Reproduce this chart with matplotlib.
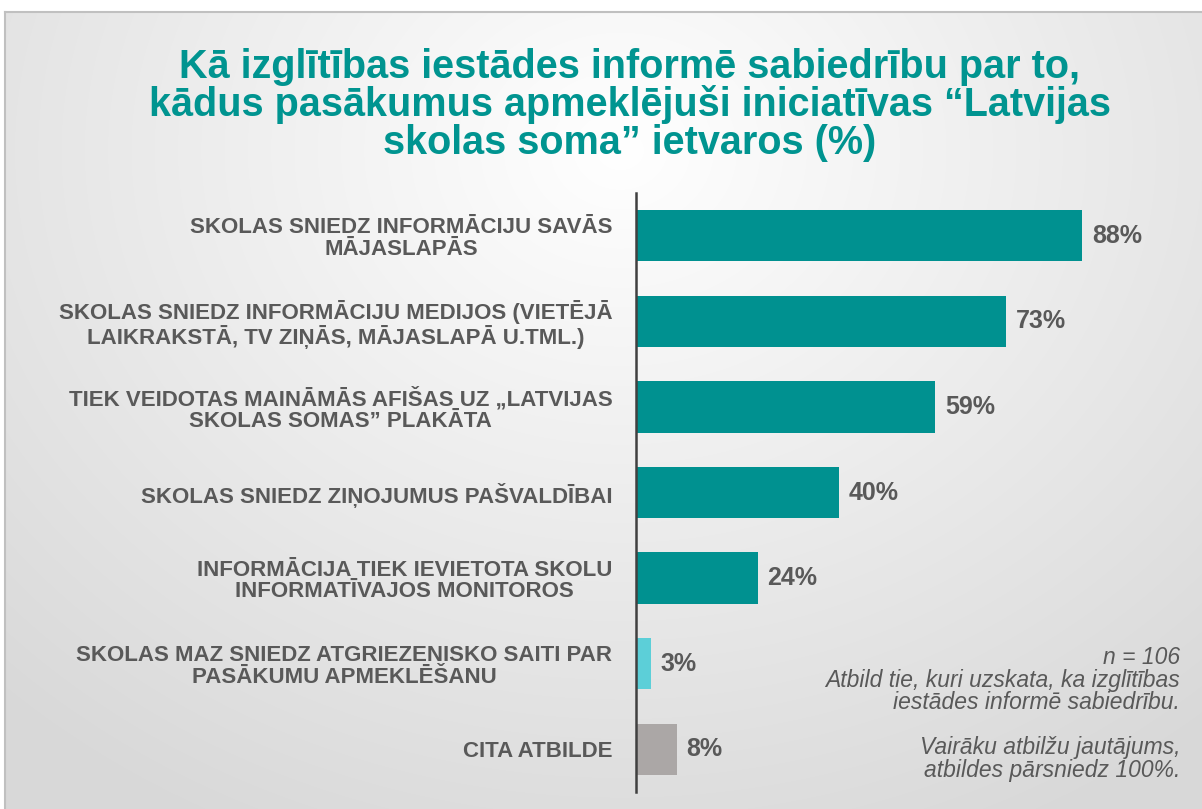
import matplotlib
matplotlib.use("Agg")
import matplotlib.pyplot as plt
import numpy as np

FIGSIZE = (12.02, 8.09)

categories = [
    "SKOLAS SNIEDZ INFORMĀCIJU SAVĀS\nMĀJASLAPĀS",
    "SKOLAS SNIEDZ INFORMĀCIJU MEDIJOS (VIETĒJĀ\nLAIKRAKSTĀ, TV ZIŅĀS, MĀJASLAPĀ U.TML.)",
    "TIEK VEIDOTAS MAINĀMĀS AFIŠAS UZ „LATVIJAS\nSKOLAS SOMAS” PLAKĀTA",
    "SKOLAS SNIEDZ ZIŅOJUMUS PAŠVALDĪBAI",
    "INFORMĀCIJA TIEK IEVIETOTA SKOLU\nINFORMATĪVAJOS MONITOROS",
    "SKOLAS MAZ SNIEDZ ATGRIEZENISKO SAITI PAR\nPASĀKUMU APMEKLĒŠANU",
    "CITA ATBILDE",
]
values = [88, 73, 59, 40, 24, 3, 8]
bar_colors = ["#009190", "#009190", "#009190", "#009190", "#009190", "#5ccfd8", "#aba7a6"]

title = ("Kā izglītības iestādes informē sabiedrību par to,\n"
         "kādus pasākumus apmeklējuši iniciatīvas “Latvijas\n"
         "skolas soma” ietvaros (%)")
note = ("n = 106\n"
        "Atbild tie, kuri uzskata, ka izglītības\n"
        "iestādes informē sabiedrību.\n"
        "\n"
        "Vairāku atbilžu jautājums,\n"
        "atbildes pārsniedz 100%.")

plt.rcParams['font.family'] = ['Liberation Sans', 'DejaVu Sans']
TEXT = "#595959"

fig = plt.figure(figsize=FIGSIZE, dpi=100)

# background: white strip on top, radial grey gradient in the framed panel
bg = fig.add_axes([0, 0, 1, 1])
h, w = 809, 1202
yy, xx = np.mgrid[0:h, 0:w]
d = np.sqrt(((xx - 620) / 950.0) ** 2 + ((yy - 150) / 800.0) ** 2)
shade = np.clip(1.0 - 0.16 * d, 0.85, 1.0)
shade[:12, :] = 1.0
shade[:, :5] = 1.0
bg.imshow(np.dstack([shade] * 3), extent=[0, w, h, 0], aspect='auto')
bg.plot([5, w], [12, 12], color="#c0c0c0", lw=1.5)
bg.plot([5, 5], [12, h], color="#c0c0c0", lw=1.5)
bg.set_xlim(0, w)
bg.set_ylim(h, 0)
bg.axis('off')

ax = fig.add_axes([636 / 1202, 17 / 809, (1143 - 636) / 1202, (792 - 193) / 809])
ax.patch.set_alpha(0)
pos = np.arange(len(values))
bars = ax.barh(pos, values, height=0.6, color=bar_colors)
ax.set_ylim(len(values) - 0.5, -0.5)
ax.set_xlim(0, 100)

for rect, v in zip(bars, values):
    ax.annotate("%d%%" % v, (rect.get_width(), rect.get_y() + rect.get_height() / 2),
                xytext=(7, 0), textcoords='offset points', ha='left', va='center',
                fontsize=18, fontweight='bold', color=TEXT)

ax.set_yticks(pos)
ax.set_yticklabels(categories, fontsize=16, fontweight='bold', color=TEXT, linespacing=1.05)
for lbl in ax.get_yticklabels():
    lbl.set_multialignment('center')
ax.tick_params(axis='y', length=0, pad=17)
ax.set_xticks([])
for s in ['top', 'right', 'bottom']:
    ax.spines[s].set_visible(False)
ax.spines['left'].set_color("#404040")
ax.spines['left'].set_linewidth(1.8)

fig.text(0.524, 1 - 105 / 809, title, ha='center', va='center', fontsize=28.5,
         fontweight='bold', color="#009490", linespacing=0.97)
fig.text(1180 / 1202, 1 - 714 / 809, note, ha='right', va='center', fontsize=16.5,
         style='italic', color=TEXT, linespacing=0.97)

plt.savefig("out.png", dpi=100)
plt.close()
